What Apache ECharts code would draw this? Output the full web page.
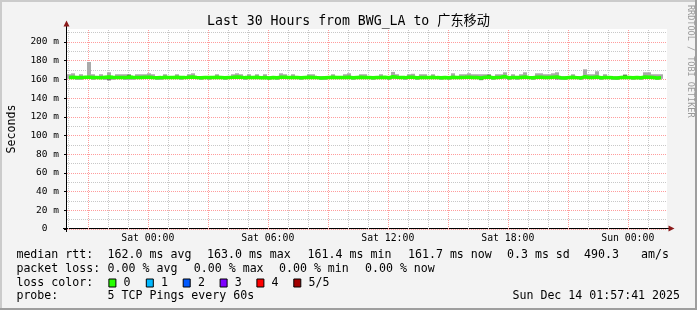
<!DOCTYPE html>
<html><head><meta charset="utf-8">
<script src="https://cdn.jsdelivr.net/npm/echarts@6/dist/echarts.min.js"></script>
<style>html,body{margin:0;padding:0;background:#f3f3f3}#c{width:697px;height:310px}</style>
</head><body><div id="c"></div>
<script>
// ---------- data ----------
const chartTitle = 'Last 30 Hours from BWG_LA to 广东移动';
const yAxisName = 'Seconds';
const spanMinutes = 1800;           // 30 hours
const stepMinutes = 12;             // one smoke bucket
const firstHourOffset = 2 + 19 / 60; // start Fri 19:57:41 -> Fri 20:00
const firstHourOfDay = 20;
const xLabelHours = [4, 10, 16, 22, 28];
const xLabels = ['Sat 00:00', 'Sat 06:00', 'Sat 12:00', 'Sat 18:00', 'Sun 00:00'];
const yMax = 213.9;

const medianRtt = [
162.1,162.3,162.0,161.9,162.2,162.4,162.1,162.0,161.8,162.2,
162.6,162.3,162.1,162.0,161.9,162.5,162.2,162.0,162.1,162.3,
162.4,162.0,161.8,161.9,162.2,162.1,162.0,162.3,162.1,161.9,
162.2,162.5,162.1,161.8,162.0,161.9,162.1,162.2,162.0,161.7,
162.1,162.3,162.6,162.2,161.9,162.1,162.0,162.2,161.8,162.0,
161.6,162.1,161.7,162.3,162.2,162.0,162.1,161.9,161.7,162.0,
162.2,162.1,161.9,161.6,161.8,162.0,162.2,162.1,161.9,162.0,
162.4,161.8,162.0,162.2,162.1,161.9,161.7,162.0,162.1,162.3,
161.8,162.9,162.4,162.0,161.9,162.2,162.3,161.8,162.0,162.1,
162.0,162.2,161.9,161.7,162.0,161.8,162.3,162.0,162.1,162.2,
162.4,162.1,162.0,161.6,162.2,162.5,161.7,162.1,162.2,163.0,
161.8,162.1,161.9,162.0,162.6,162.0,161.8,162.4,162.3,162.1,
162.0,162.4,162.7,161.7,161.5,162.0,162.2,161.9,161.6,162.9,
162.1,162.0,162.6,161.8,162.0,161.9,161.7,161.6,162.0,162.3,
162.1,161.8,162.0,161.7,162.5,162.4,162.0,161.4,161.7
];
const smokeMax = [
165.5,166.5,163.5,165.5,163.5,178.6,165.5,163.5,165.5,163.5,
167.6,163.5,165.5,165.5,165.5,165.0,163.5,165.5,165.5,165.5,
166.5,165.5,163.5,163.5,165.5,163.5,163.5,165.5,163.5,163.5,
165.5,166.5,163.5,163.5,163.5,163.5,163.5,165.5,163.5,163.5,
163.5,165.5,166.5,165.5,163.5,165.5,163.5,165.5,163.5,165.5,
163.5,163.5,163.5,166.5,165.5,163.5,165.5,163.5,163.5,163.5,
165.5,165.5,163.5,163.5,163.5,163.5,165.5,163.5,163.5,165.5,
166.5,163.5,163.5,165.5,165.5,163.5,163.5,163.5,165.5,163.5,
163.5,168.0,165.5,163.5,163.5,165.5,166.0,163.5,165.5,165.5,
163.5,165.5,163.5,163.5,163.5,163.5,166.5,163.5,165.5,165.5,
166.5,165.5,165.5,165.5,165.5,165.0,163.5,165.5,165.5,167.6,
163.5,165.5,163.5,165.5,167.6,163.5,163.5,166.5,166.5,165.5,
165.5,166.5,167.6,163.5,163.5,163.5,165.5,163.5,163.5,170.8,
165.5,165.5,168.7,163.5,165.5,163.5,163.5,163.5,163.5,165.0,
163.5,163.5,163.5,163.5,167.6,167.6,165.5,165.5,165.5
];
const smokeMin = [
160.6,160.6,159.5,159.5,160.6,160.6,159.5,160.6,160.6,159.5,
160.6,159.5,160.6,160.6,159.5,159.5,159.5,160.6,160.6,160.6,
160.6,160.6,159.5,159.5,160.6,160.6,160.6,160.6,159.5,160.6,
160.6,160.6,160.6,159.5,160.6,159.5,160.6,160.6,160.6,159.5,
160.6,160.6,160.6,160.6,159.5,160.6,160.6,160.6,160.6,160.6,
159.5,160.6,159.5,160.6,160.6,160.6,160.6,160.6,159.5,160.6,
160.6,160.6,160.6,159.5,159.5,160.6,160.6,160.6,160.6,160.6,
160.6,159.5,160.6,160.6,160.6,160.6,159.5,160.6,160.6,160.6,
159.5,160.6,160.6,160.6,159.5,160.6,160.6,159.5,160.6,160.6,
160.6,160.6,160.6,159.5,160.6,159.5,160.6,160.6,160.6,160.6,
160.6,160.6,160.6,159.5,160.6,160.6,159.5,160.6,160.6,160.6,
159.5,160.6,159.5,160.6,160.6,160.6,159.5,160.6,160.6,160.6,
160.6,160.6,160.6,159.5,159.5,160.6,160.6,160.6,159.5,160.6,
160.6,160.6,160.6,159.5,160.6,160.6,159.5,159.5,160.6,160.6,
160.6,159.5,160.6,159.5,160.6,160.6,160.6,159.5,160.6
];
// [bucket index, low, high] of the denser (darker) smoke
const darkSmoke = [[10,159.0,160.2],[15,163.8,165.2],[103,159.2,160.2],[105,163.8,165.2],[122,160.0,161.0],[139,163.8,165.0]];

const rttLabel = 'median rtt:';
const rttStats = ['162.0 ms avg', '163.0 ms max', '161.4 ms min', '161.7 ms now', '0.3 ms sd', '490.3', 'am/s'];
const lossLabel = 'packet loss:';
const lossStats = ['0.00 % avg', '0.00 % max', '0.00 % min', '0.00 % now'];
const colorLabel = 'loss color:';
const lossNames = ['0', '1', '2', '3', '4', '5/5'];
const lossColors = ['#26ff00', '#00b8ff', '#0059ff', '#7e00ff', '#ff0000', '#a10000'];
const probeLabel = 'probe:';
const probeText = '5 TCP Pings every 60s';
const stampText = 'Sun Dec 14 01:57:41 2025';
const watermark = 'RRDTOOL / TOBI OETIKER';

// ---------- derived ----------
const MONO = "'DejaVu Sans Mono', 'Noto Sans CJK SC', monospace";
const bucketMid = i => (i + 0.5) * stepMinutes;
const medianData = medianRtt.map((v, i) => [bucketMid(i), v]);
const smokeData = smokeMax.map((v, i) => [bucketMid(i), smokeMin[i], v]);
const darkData = darkSmoke.map(d => [bucketMid(d[0]), d[1], d[2]]);

const minorX = [], majorX = [];
for (let h = 0; h * 60 + firstHourOffset < spanMinutes; h++) {
  const pos = firstHourOffset + h * 60;
  if ((firstHourOfDay + h) % 3 === 0) majorX.push(pos); else minorX.push(pos);
}
const labelX = xLabelHours.map(h => firstHourOffset + h * 60);

function smokeRender(color) {
  return function (params, api) {
    const x = api.value(0), lo = api.value(1), hi = api.value(2);
    const p0 = api.coord([x - stepMinutes / 2, hi]);
    const p1 = api.coord([x + stepMinutes / 2, lo]);
    return { type: 'rect', shape: { x: p0[0], y: p0[1], width: p1[0] - p0[0], height: p1[1] - p0[1] },
             style: { fill: color } };
  };
}

const T = (text, x, y, extra) => Object.assign({
  type: 'text', x: x, y: y, silent: true,
  style: Object.assign({ text: text, font: '11.6px ' + MONO, fill: '#000', textAlign: 'left', textVerticalAlign: 'middle' }, extra || {})
});

const rttCols = [107.6, 207, 307.6, 408, 507, 584, 641];
const lossCols = [107.6, 193.8, 279, 365];
const boxCols = [108.4, 145.8, 182.7, 219.6, 256.4, 293.3];
const rows = [254.5, 268.5, 282.5, 296];
const textX = 16.4;

const graphics = [
  { type: 'rect', shape: { x: 0, y: 0, width: 697, height: 2 }, style: { fill: '#cbcbcb' }, silent: true },
  { type: 'rect', shape: { x: 0, y: 0, width: 2, height: 310 }, style: { fill: '#cbcbcb' }, silent: true },
  { type: 'rect', shape: { x: 695, y: 0, width: 2, height: 310 }, style: { fill: '#9e9e9e' }, silent: true },
  { type: 'rect', shape: { x: 0, y: 308, width: 697, height: 2 }, style: { fill: '#9e9e9e' }, silent: true },
  T(chartTitle, 348.5, 21.5, { font: '13.2px ' + MONO, textAlign: 'center' }),
  { type: 'text', x: 690.5, y: 5, rotation: -Math.PI / 2, silent: true,
    style: { text: watermark, font: '8.5px ' + MONO, fill: '#999999', textAlign: 'left', textVerticalAlign: 'middle' } },
  // axis extensions and arrows
  { type: 'line', shape: { x1: 66.5, y1: 232, x2: 66.5, y2: 25 }, style: { stroke: '#000', lineWidth: 1 }, silent: true },
  { type: 'polygon', shape: { points: [[66.5, 20.5], [63.5, 26.5], [69.5, 26.5]] }, style: { fill: '#8b1a1a' }, silent: true },
  { type: 'line', shape: { x1: 63, y1: 228.5, x2: 670, y2: 228.5 }, style: { stroke: '#000', lineWidth: 1 }, silent: true },
  { type: 'polygon', shape: { points: [[674.5, 228.5], [668.5, 225.5], [668.5, 231.5]] }, style: { fill: '#8b1a1a' }, silent: true },
  T(rttLabel, textX, rows[0]),
  T(lossLabel, textX, rows[1]),
  T(colorLabel, textX, rows[2]),
  T(probeLabel, textX, rows[3]),
  T(probeText, rttCols[0], rows[3]),
  T(stampText, 680, rows[3], { textAlign: 'right' })
];
rttStats.forEach((s, i) => graphics.push(T(s, rttCols[i], rows[0])));
lossStats.forEach((s, i) => graphics.push(T(s, lossCols[i], rows[1])));
lossNames.forEach((s, i) => {
  graphics.push({ type: 'rect', shape: { x: boxCols[i] + 0.5, y: rows[2] - 3.5, width: 7, height: 8 },
    style: { fill: lossColors[i], stroke: '#000', lineWidth: 1 }, silent: true });
  graphics.push(T(s, boxCols[i] + 15.2, rows[2]));
});

const minorYColors = ['rgba(0,0,0,0)', '#c8c8c8'];
const majorYColors = [];
for (let k = 0; k < 11; k++) majorYColors.push('#ff9c9c');
majorYColors.push('rgba(0,0,0,0)');

const chart = echarts.init(document.getElementById('c'), null, { renderer: 'canvas', width: 697, height: 310 });
chart.setOption({
  backgroundColor: '#f3f3f3',
  animation: false,
  grid: { left: 67, top: 29, width: 600, height: 200, show: true, backgroundColor: '#ffffff', borderWidth: 0,
          containLabel: false, outerBoundsMode: 'none' },
  xAxis: {
    type: 'value', min: 0, max: spanMinutes,
    axisLine: { show: false },
    axisTick: { show: false },
    splitLine: { show: false },
    axisLabel: {
      customValues: labelX,
      formatter: v => { const k = labelX.findIndex(p => Math.abs(p - v) < 0.01); return k >= 0 ? xLabels[k] : ''; },
      fontFamily: MONO, fontSize: 9.8, color: '#000', margin: 5
    }
  },
  yAxis: [
    { type: 'value', position: 'left', min: 0, max: yMax, interval: 10,
      axisLine: { show: false }, axisTick: { show: false }, axisLabel: { show: false },
      splitLine: { show: true, showMaxLine: false, lineStyle: { color: minorYColors, type: [1, 1], width: 1 } } },
    { type: 'value', position: 'left', min: 0, max: yMax, interval: 20,
      name: yAxisName, nameLocation: 'middle', nameGap: 49,
      nameTextStyle: { fontFamily: MONO, fontSize: 11.6, color: '#000' },
      axisLine: { show: false },
      axisTick: { show: true, length: 3, lineStyle: { color: '#000' } },
      axisLabel: { fontFamily: MONO, fontSize: 9.5, color: '#000', margin: 8, showMaxLabel: false,
        formatter: v => (v === 0 ? '0  ' : (v % 20 === 0 ? v + ' m' : '')) },
      splitLine: { show: true, showMaxLine: false, lineStyle: { color: majorYColors, type: [1, 1], width: 1 } } }
  ],
  series: [
    { type: 'custom', name: 'smoke', xAxisIndex: 0, yAxisIndex: 1, z: 3, silent: true,
      renderItem: smokeRender('#aaaaaa'), encode: { x: 0, y: [1, 2] }, data: smokeData },
    { type: 'custom', name: 'smoke-dense', xAxisIndex: 0, yAxisIndex: 1, z: 3, silent: true,
      renderItem: smokeRender('#5e5e5e'), encode: { x: 0, y: [1, 2] }, data: darkData },
    { type: 'line', name: 'median', xAxisIndex: 0, yAxisIndex: 1, z: 4, silent: true,
      step: 'middle', symbol: 'none', data: medianData,
      lineStyle: { color: lossColors[0], width: 3.5 },
      markLine: { silent: true, symbol: 'none', z: 1, label: { show: false }, animation: false,
        data: minorX.map(v => ({ xAxis: v, lineStyle: { color: '#c8c8c8', type: [1, 1], width: 1 } }))
          .concat(majorX.map(v => ({ xAxis: v, lineStyle: { color: '#ff9c9c', type: [1, 1], width: 1 } }))) } }
  ],
  graphic: graphics
});
</script></body></html>
